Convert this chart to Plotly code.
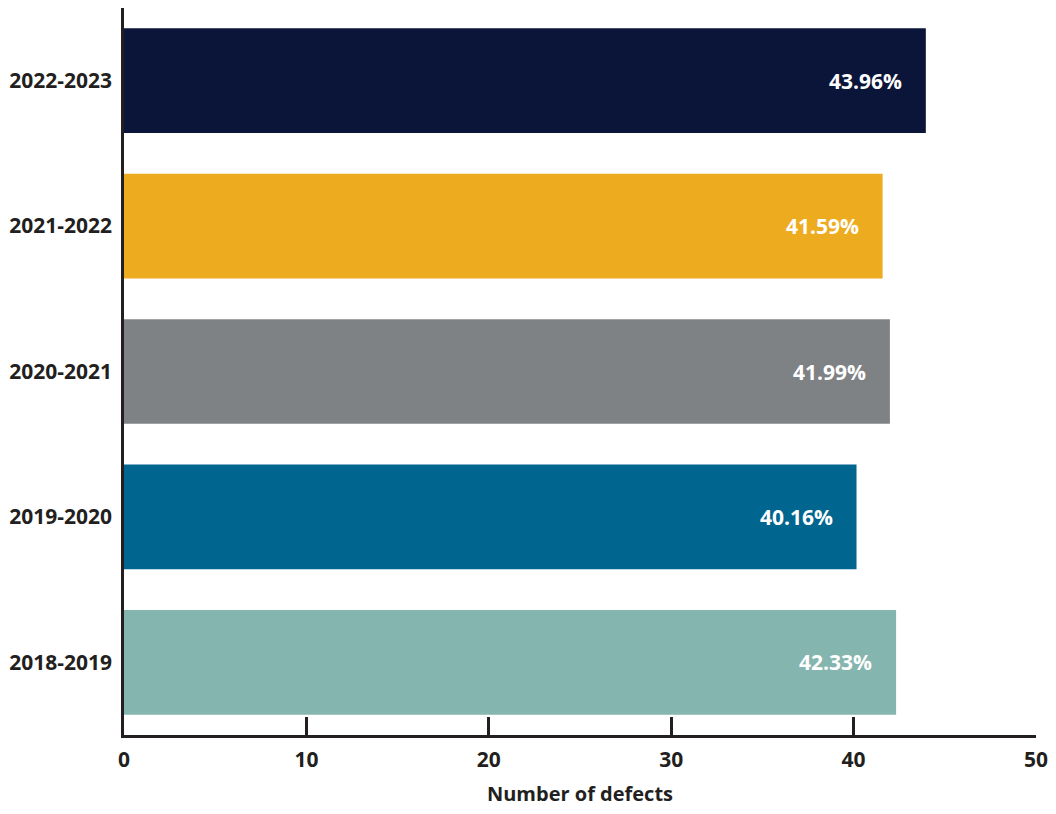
import plotly.graph_objects as go

# Share of defects per financial year
years = ["2018-2019", "2019-2020", "2020-2021", "2021-2022", "2022-2023"]
values = [42.33, 40.16, 41.99, 41.59, 43.96]
bar_colors = ["#84B5AE", "#006690", "#7F8285", "#EDAC1F", "#0B1539"]

x_ticks = [0, 10, 20, 30, 40, 50]

FONT = "Open Sans"
INK = "#231F20"

fig = go.Figure(
    go.Bar(
        x=values,
        y=years,
        orientation="h",
        marker=dict(color=bar_colors, line=dict(width=0)),
        hoverinfo="skip",
    )
)

# Value labels inside the right end of each bar
for yr, v in zip(years, values):
    fig.add_annotation(
        x=v, y=yr, text=f"<b>{v:.2f}%</b>", showarrow=False,
        xanchor="right", xshift=-22,
        font=dict(family=FONT, size=21, color="white"),
    )

fig.update_layout(
    width=1056, height=814,
    margin=dict(l=124, r=15, t=8, b=79),
    paper_bgcolor="white", plot_bgcolor="white",
    bargap=0.28,
    showlegend=False,
    font=dict(family=FONT, color=INK),
)

fig.update_xaxes(
    range=[0, 50], tickvals=x_ticks, ticktext=[f"<b>{t}</b>" for t in x_ticks],
    showgrid=False, zeroline=False,
    showline=True, linecolor=INK, linewidth=2.5,
    ticks="inside", ticklen=18, tickwidth=2.5, tickcolor=INK,
    tickfont=dict(family=FONT, size=21, color=INK),
    ticklabelstandoff=4,
    title=dict(text="<b>Number of defects</b>", standoff=16,
               font=dict(family=FONT, size=20, color=INK)),
)

fig.update_yaxes(
    range=[-0.5, 4.5], showgrid=False, zeroline=False,
    showline=True, linecolor=INK, linewidth=2.5,
    ticks="", ticklabelstandoff=5,
    tickvals=years, ticktext=[f"<b>{y}</b>" for y in years],
    tickfont=dict(family=FONT, size=21, color=INK),
)

fig.write_html("out.html")
